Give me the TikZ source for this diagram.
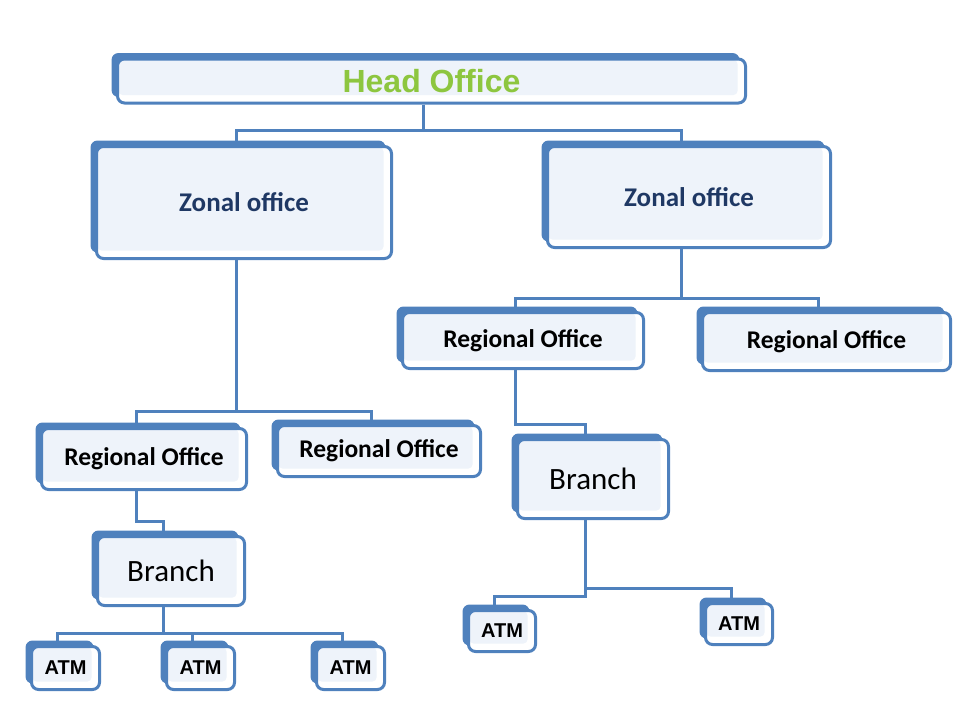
\documentclass[tikz,border=0pt]{standalone}
\usepackage{fontspec}
\setmainfont{Carlito}
\newfontfamily\atmfont{Liberation Sans}
\usetikzlibrary{shadows,backgrounds}
\definecolor{boxblue}{HTML}{4F81BD}
\definecolor{boxlight}{HTML}{EEF3FA}
\definecolor{zonalblue}{HTML}{1F3864}
\definecolor{headgreen}{HTML}{8DC63F}
\tikzset{
  office/.style={draw=boxblue, fill=white, line width=3, rounded corners=7, inner sep=0,
    general shadow={fill=boxblue, shadow xshift=-6pt, shadow yshift=6pt},
    path picture={\fill[boxlight, rounded corners=4] ([xshift=1pt,yshift=-1pt]path picture bounding box.north west) rectangle ([xshift=-8pt,yshift=8pt]path picture bounding box.south east);}},
  headlabel/.style={font=\atmfont\bfseries\fontsize{32}{36}\selectfont, text=headgreen},
  zonallabel/.style={font=\bfseries\fontsize{27}{30}\selectfont, text=zonalblue},
  regionlabel/.style={font=\bfseries\fontsize{25.5}{30}\selectfont},
  branchlabel/.style={font=\fontsize{31}{36}\selectfont},
  atmlabel/.style={font=\atmfont\bfseries\fontsize{20}{24}\selectfont},
  link/.style={draw=boxblue, line width=3}
}
\begin{document}
\begin{tikzpicture}[x=1pt, y=-1pt]
\useasboundingbox (0,0) rectangle (960,720);
\node[office, headlabel, minimum width=628, minimum height=44] (head) at (431.5,81) {Head Office};
\node[office, zonallabel, minimum width=295, minimum height=112] (zonalL) at (244,202.5) {Zonal office};
\node[office, zonallabel, minimum width=283, minimum height=101] (zonalR) at (689,197) {Zonal office};
\node[office, regionlabel, minimum width=241, minimum height=56] (regRL) at (523,340.5) {Regional Office};
\node[office, regionlabel, minimum width=248, minimum height=58] (regRR) at (826.5,341.5) {Regional Office};
\node[office, regionlabel, minimum width=205, minimum height=61] (regLL) at (144,459) {Regional Office};
\node[office, regionlabel, minimum width=203, minimum height=51] (regLR) at (379,451) {Regional Office};
\node[office, branchlabel, minimum width=151, minimum height=79] (branchR) at (593,479) {Branch};
\node[office, branchlabel, minimum width=147, minimum height=69] (branchL) at (171,571) {Branch};
\node[office, atmlabel, minimum width=68, minimum height=43] (atmL1) at (65.5,668) {ATM};
\node[office, atmlabel, minimum width=68, minimum height=43] (atmL2) at (200.5,668) {ATM};
\node[office, atmlabel, minimum width=68, minimum height=43] (atmL3) at (350.5,668) {ATM};
\node[office, atmlabel, minimum width=67, minimum height=41] (atmR1) at (502,631) {ATM};
\node[office, atmlabel, minimum width=67, minimum height=41] (atmR2) at (739,624) {ATM};
\begin{scope}[on background layer]
\draw[link] ([xshift=-8]head.south) -- ++(0,26) -| ([xshift=-8]zonalL.north);
\draw[link] ([xshift=-8]head.south) -- ++(0,26) -| ([xshift=-8]zonalR.north);
\draw[link] ([xshift=-8]zonalL.south) -- ++(0,151) -| ([xshift=-8]regLL.north);
\draw[link] ([xshift=-8]zonalL.south) -- ++(0,151) -| ([xshift=-8]regLR.north);
\draw[link] ([xshift=-8]zonalR.south) -- ++(0,49) -| ([xshift=-8]regRL.north);
\draw[link] ([xshift=-8]zonalR.south) -- ++(0,49) -| ([xshift=-8]regRR.north);
\draw[link] ([xshift=-8]regRL.south) -- ++(0,54) -| ([xshift=-8]branchR.north);
\draw[link] ([xshift=-8]regLL.south) -- ++(0,30) -| ([xshift=-8]branchL.north);
\draw[link] ([xshift=-8]branchL.south) -- ++(0,26) -| ([xshift=-8]atmL1.north);
\draw[link] ([xshift=-8]branchL.south) -- ++(0,26) -| ([xshift=-8]atmL2.north);
\draw[link] ([xshift=-8]branchL.south) -- ++(0,26) -| ([xshift=-8]atmL3.north);
\draw[link] ([xshift=-8]branchR.south) -- ++(0,76) -| ([xshift=-8]atmR1.north);
\draw[link] ([xshift=-8]branchR.south) -- ++(0,68) -| ([xshift=-8]atmR2.north);
\end{scope}
\end{tikzpicture}
\end{document}
